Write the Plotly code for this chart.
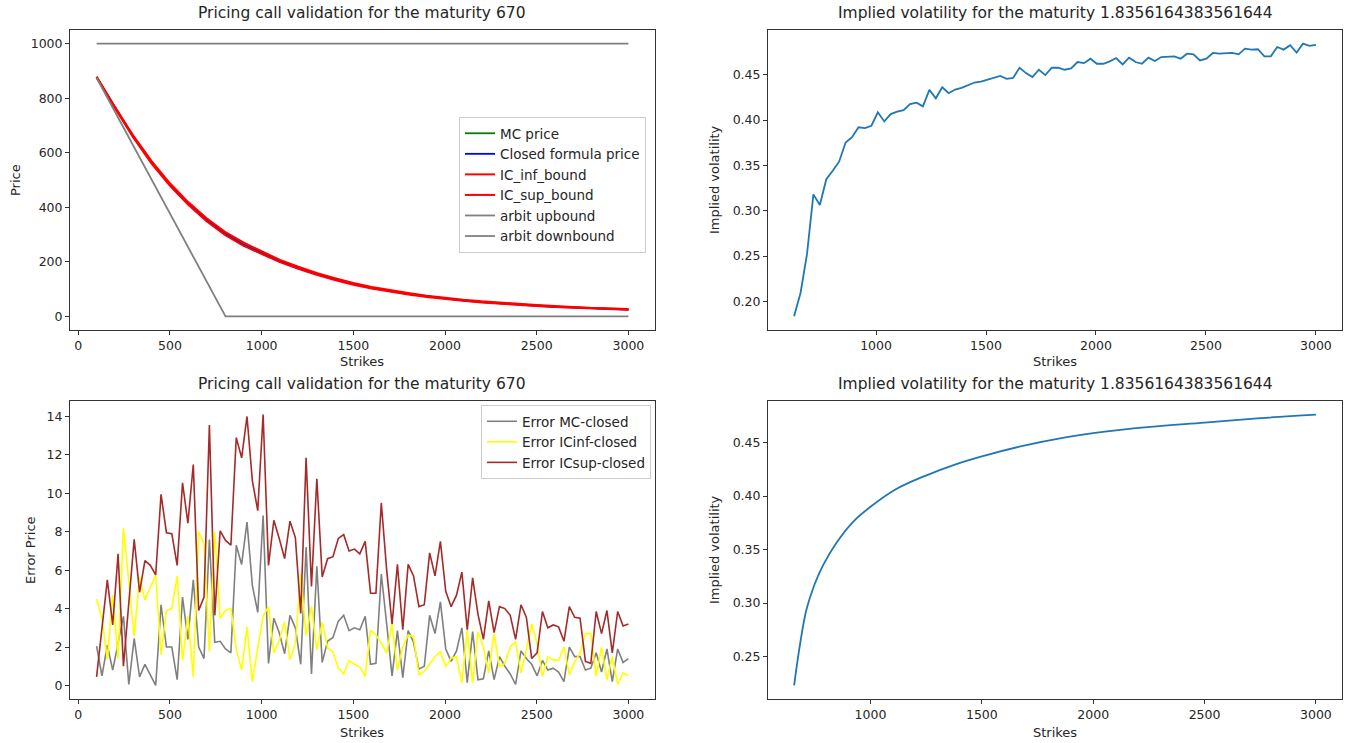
import plotly.graph_objects as go

# ---------------- data ----------------
n_err = 100
err_strikes = [100 + i * (2900 / 99) for i in range(n_err)]

err_mc = [2.05, 0.5, 2.1, 0.8, 2.2, 3.6, 0.05, 2.45, 0.45, 1.1,
          0.55, 0.0, 4.2, 2.0, 2.0, 0.3, 4.6, 2.4, 5.5, 2.0,
          1.4, 7.6, 2.25, 2.3, 1.9, 1.7, 7.3, 6.3, 8.5, 5.2,
          3.8, 8.85, 1.15, 3.5, 2.75, 1.65, 3.65, 3.0, 1.1, 7.2,
          0.6, 6.2, 1.2, 2.3, 2.5, 3.35, 3.65, 2.85, 3.0, 2.9,
          3.6, 1.1, 1.15, 5.8, 3.2, 0.5, 2.85, 0.4, 2.85, 2.25,
          0.85, 1.0, 3.65, 2.7, 4.35, 1.9, 1.25, 1.8, 3.0, 0.15,
          2.8, 0.3, 0.35, 1.8, 0.3, 1.5, 1.0, 0.6, 0.05, 1.8,
          1.4, 1.1, 0.5, 1.3, 0.8, 0.9, 0.7, 0.2, 2.0, 1.5,
          1.5, 0.8, 0.9, 1.7, 0.7, 1.9, 0.2, 1.9, 1.2, 1.4]

err_icinf = [4.5, 3.5, 1.35, 4.7, 1.4, 8.2, 5.4, 2.55, 5.65, 4.45,
             5.1, 5.75, 1.6, 3.9, 4.0, 5.7, 1.3, 3.6, 0.45, 8.0,
             7.4, 1.75, 8.0, 3.5, 3.9, 4.0, 1.9, 0.8, 3.05, 0.2,
             1.95, 3.6, 4.1, 1.7, 2.35, 3.3, 1.35, 2.2, 5.8, 2.6,
             4.1, 1.85, 3.3, 1.95, 1.75, 0.9, 0.6, 1.3, 1.1, 0.97,
             0.47, 2.88, 2.63, 2.2, 1.68, 3.2, 0.8, 2.0, 2.63, 2.54,
             0.56, 0.73, 1.1, 1.5, 1.76, 0.98, 1.42, 1.5, 0.13, 2.88,
             0.13, 2.8, 2.0, 0.65, 2.7, 0.98, 1.15, 2.0, 2.28, 0.65,
             1.85, 3.2, 2.2, 0.47, 1.5, 1.33, 1.3, 2.0, 0.56, 1.24,
             1.68, 2.7, 2.7, 0.47, 2.0, 0.3, 1.5, 0.05, 0.65, 0.5]

err_icsup = [0.45, 2.9, 5.5, 3.15, 6.85, 1.0, 4.4, 7.6, 4.85, 6.5,
             6.25, 5.75, 9.95, 7.95, 7.9, 6.25, 10.55, 8.45, 11.5, 3.9,
             4.6, 13.55, 3.65, 8.05, 7.55, 7.3, 12.9, 11.85, 14.0, 10.65,
             9.1, 14.1, 6.25, 8.6, 7.65, 6.6, 8.55, 7.7, 3.75, 11.85,
             5.15, 10.75, 5.65, 6.6, 6.7, 7.65, 7.85, 7.0, 7.1, 6.85,
             7.5, 4.8, 4.8, 9.5, 6.0, 3.2, 6.3, 2.9, 6.3, 5.7,
             4.1, 4.2, 6.9, 5.7, 7.5, 4.9, 4.1, 4.7, 5.9, 2.9,
             5.6, 3.7, 2.4, 4.4, 2.75, 4.1, 4.0, 3.65, 2.4, 4.2,
             3.55, 1.4, 1.7, 3.85, 3.0, 3.15, 3.05, 2.3, 4.1, 3.55,
             3.5, 1.25, 1.15, 3.85, 2.7, 3.9, 1.7, 3.85, 3.1, 3.2]

price_strikes = [100, 200, 300, 400, 500, 600, 700, 800, 900, 1000,
                 1100, 1200, 1300, 1400, 1500, 1600, 1700, 1800, 1900, 2000,
                 2100, 2200, 2300, 2400, 2500, 2600, 2700, 2800, 2900, 3000]
closed_price = [877, 765, 658, 563, 482, 412, 352, 302, 262, 230,
                201, 176, 154, 135, 118, 104, 92, 82, 73, 65,
                58, 52, 47, 43, 39, 35, 32, 29, 27, 25]
mc_price = [878, 766, 660, 565, 484, 414, 355, 305, 265, 233,
            203, 178, 156, 137, 119, 105, 93, 83, 74, 66,
            59, 53, 48, 44, 40, 36, 33, 30, 28, 26]
ic_inf_bound = [876, 763, 656, 560, 479, 409, 349, 299, 259, 228,
                199, 174, 152, 133, 116, 102, 90, 80, 71, 63,
                57, 51, 46, 42, 38, 34, 31, 28, 26, 24]
ic_sup_bound = [879, 768, 663, 569, 488, 419, 360, 310, 271, 238,
                207, 182, 159, 140, 122, 108, 96, 86, 76, 68,
                61, 55, 50, 46, 42, 38, 34, 31, 29, 27]

arb_up_strikes = [100, 3000]
arb_up = [1000, 1000]
arb_down_strikes = [100, 803, 3000]
arb_down = [875, 0, 0]

iv_strikes = [100 + k * (2900 / 99) for k in range(18, 100)]
iv_mc = [0.1834, 0.2092, 0.2517, 0.318, 0.3063, 0.3347, 0.344, 0.3543, 0.3753, 0.381,
         0.392, 0.3912, 0.3937, 0.4085, 0.3985, 0.4066, 0.4092, 0.411, 0.4177, 0.4192,
         0.4151, 0.4333, 0.424, 0.4362, 0.4296, 0.4336, 0.4355, 0.4388, 0.4414, 0.4425,
         0.4443, 0.4465, 0.4487, 0.4455, 0.4465, 0.4577, 0.4518, 0.4474, 0.4555, 0.4496,
         0.4577, 0.4577, 0.4555, 0.457, 0.464, 0.4628, 0.4677, 0.4621, 0.4621, 0.4647,
         0.4684, 0.4614, 0.4688, 0.464, 0.4621, 0.4688, 0.4651, 0.4695, 0.4703, 0.4703,
         0.4677, 0.4732, 0.4725, 0.4658, 0.4677, 0.474, 0.4732, 0.474, 0.474, 0.4725,
         0.4788, 0.4777, 0.4781, 0.4703, 0.4703, 0.4806, 0.4777, 0.4825, 0.4744, 0.4843,
         0.4818, 0.4829]

iv2_strikes = [657, 684, 712, 750, 788, 846, 922, 1000, 1112, 1246, 1379, 1500,
               1684, 1875, 2000, 2256, 2500, 2752, 3000]
iv_closed = [0.2229, 0.2618, 0.2935, 0.318, 0.3357, 0.356, 0.376, 0.390, 0.4062, 0.4190,
             0.4295, 0.4372, 0.4470, 0.4550, 0.4590, 0.4647, 0.4687, 0.4730, 0.4763]

# ---------------- figure ----------------
W, H = 1356, 743
FONT = "DejaVu Sans"
TXT = "#262626"
fig = go.Figure()

def px_x(x):
    return x / W

def px_y(y):
    return 1 - y / H

L_dom = [px_x(70), px_x(655)]
R_dom = [px_x(768), px_x(1342)]
T_dom = [px_y(330), px_y(30)]
B_dom = [px_y(699), px_y(401)]

# top-left
fig.add_trace(go.Scatter(x=price_strikes, y=mc_price, mode="lines", name="MC price",
                         line=dict(color="green", width=1.8), xaxis="x", yaxis="y", legend="legend"))
fig.add_trace(go.Scatter(x=price_strikes, y=closed_price, mode="lines", name="Closed formula price",
                         line=dict(color="blue", width=1.8), xaxis="x", yaxis="y", legend="legend"))
fig.add_trace(go.Scatter(x=price_strikes, y=ic_inf_bound, mode="lines", name="IC_inf_bound",
                         line=dict(color="red", width=2), xaxis="x", yaxis="y", legend="legend"))
fig.add_trace(go.Scatter(x=price_strikes, y=ic_sup_bound, mode="lines", name="IC_sup_bound",
                         line=dict(color="red", width=2), xaxis="x", yaxis="y", legend="legend"))
fig.add_trace(go.Scatter(x=arb_up_strikes, y=arb_up, mode="lines", name="arbit upbound",
                         line=dict(color="grey", width=1.8), xaxis="x", yaxis="y", legend="legend"))
fig.add_trace(go.Scatter(x=arb_down_strikes, y=arb_down, mode="lines", name="arbit downbound",
                         line=dict(color="grey", width=1.8), xaxis="x", yaxis="y", legend="legend"))

# top-right
fig.add_trace(go.Scatter(x=iv_strikes, y=iv_mc, mode="lines", showlegend=False,
                         line=dict(color="#1f77b4", width=1.8), xaxis="x2", yaxis="y2"))

# bottom-left
fig.add_trace(go.Scatter(x=err_strikes, y=err_mc, mode="lines", name="Error MC-closed",
                         line=dict(color="grey", width=1.6), xaxis="x3", yaxis="y3", legend="legend2"))
fig.add_trace(go.Scatter(x=err_strikes, y=err_icinf, mode="lines", name="Error ICinf-closed",
                         line=dict(color="yellow", width=1.6), xaxis="x3", yaxis="y3", legend="legend2"))
fig.add_trace(go.Scatter(x=err_strikes, y=err_icsup, mode="lines", name="Error ICsup-closed",
                         line=dict(color="brown", width=1.6), xaxis="x3", yaxis="y3", legend="legend2"))

# bottom-right
fig.add_trace(go.Scatter(x=iv2_strikes, y=iv_closed, mode="lines", showlegend=False,
                         line=dict(color="#1f77b4", width=1.8, shape="spline"), xaxis="x4", yaxis="y4"))

axis_common = dict(showline=True, linecolor="#333333", linewidth=1, mirror=True,
                   ticks="outside", ticklen=4, tickcolor="#333333", showgrid=False,
                   zeroline=False, tickfont=dict(family=FONT, size=12.5, color=TXT))

def rng(lo, hi):
    s = hi - lo
    return [lo - 0.05 * s, hi + 0.05 * s]

leg_common = dict(bgcolor="rgba(255,255,255,0.85)", bordercolor="#cccccc", borderwidth=1,
                  font=dict(family=FONT, size=13.5, color=TXT), tracegroupgap=0, itemwidth=30)

fig.update_layout(
    width=W, height=H, margin=dict(l=0, r=0, t=0, b=0),
    paper_bgcolor="white", plot_bgcolor="white",
    font=dict(family=FONT, size=12, color=TXT),
    xaxis=dict(domain=L_dom, anchor="y", range=rng(100, 3000), tickvals=[0, 500, 1000, 1500, 2000, 2500, 3000], **axis_common),
    yaxis=dict(domain=T_dom, anchor="x", range=rng(0, 1000), tickvals=[0, 200, 400, 600, 800, 1000], **axis_common),
    xaxis2=dict(domain=R_dom, anchor="y2", range=rng(627.3, 3000), tickvals=[1000, 1500, 2000, 2500, 3000], **axis_common),
    yaxis2=dict(domain=T_dom, anchor="x2", range=rng(0.1834, 0.4843), tickvals=[0.20, 0.25, 0.30, 0.35, 0.40, 0.45], tickformat=".2f", **axis_common),
    xaxis3=dict(domain=L_dom, anchor="y3", range=rng(100, 3000), tickvals=[0, 500, 1000, 1500, 2000, 2500, 3000], **axis_common),
    yaxis3=dict(domain=B_dom, anchor="x3", range=rng(0, 14.1), tickvals=[0, 2, 4, 6, 8, 10, 12, 14], **axis_common),
    xaxis4=dict(domain=R_dom, anchor="y4", range=rng(657, 3000), tickvals=[1000, 1500, 2000, 2500, 3000], **axis_common),
    yaxis4=dict(domain=B_dom, anchor="x4", range=rng(0.2229, 0.4763), tickvals=[0.25, 0.30, 0.35, 0.40, 0.45], tickformat=".2f", **axis_common),
    legend=dict(x=px_x(646), xanchor="right", y=px_y(117), yanchor="top", **leg_common),
    legend2=dict(x=px_x(651), xanchor="right", y=px_y(405), yanchor="top", **leg_common),
)

ann = []
def add_text(x, y, text, size=11, angle=0):
    ann.append(dict(x=px_x(x), y=px_y(y), xref="paper", yref="paper", text=text, showarrow=False,
                    xanchor="center", yanchor="middle", textangle=angle,
                    font=dict(family=FONT, size=size, color=TXT)))

add_text(362, 13, "Pricing call validation for the maturity 670", 15.5)
add_text(1055, 13, "Implied volatility for the maturity 1.8356164383561644", 15.5)
add_text(362, 384, "Pricing call validation for the maturity 670", 15.5)
add_text(1055, 384, "Implied volatility for the maturity 1.8356164383561644", 15.5)
add_text(362, 362, "Strikes", 13)
add_text(1055, 362, "Strikes", 13)
add_text(362, 732, "Strikes", 13)
add_text(1055, 732, "Strikes", 13)
add_text(15, 180, "Price", 13, -90)
add_text(30, 550, "Error Price", 13, -90)
add_text(714, 180, "Implied volatility", 13, -90)
add_text(714, 550, "Implied volatility", 13, -90)
fig.update_layout(annotations=ann)

fig.write_html("out.html")
